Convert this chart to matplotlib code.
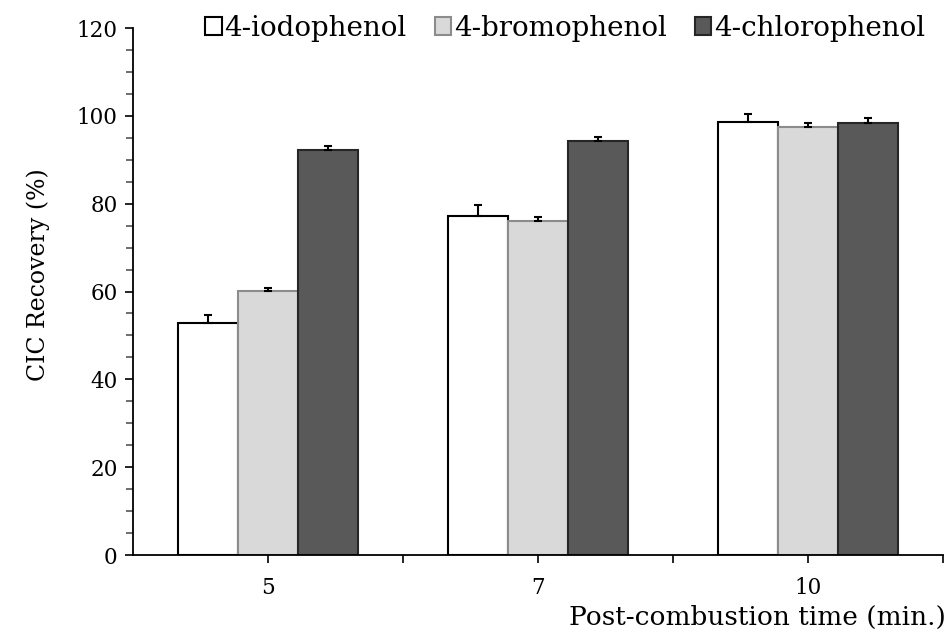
import numpy as np
import matplotlib
matplotlib.use('Agg')
import matplotlib.pyplot as plt
from matplotlib.ticker import MultipleLocator

plt.rcParams['font.family'] = ['DejaVu Serif']

times = ['5', '7', '10']
series = ['4-iodophenol', '4-bromophenol', '4-chlorophenol']
iodo = [52.8, 77.2, 98.5]
iodo_err = [1.8, 2.6, 1.9]
bromo = [60.2, 76.1, 97.4]
bromo_err = [0.7, 0.8, 1.0]
chloro = [92.3, 94.3, 98.3]
chloro_err = [0.9, 1.0, 1.3]

fills = ['white', '#d9d9d9', '#595959']
edges = ['black', '#8c8c8c', '#262626']

fig = plt.figure(figsize=(9.47, 6.37), dpi=100)
ax = fig.add_axes([0.1404, 0.1287, 0.8554, 0.8273])

x = np.arange(len(times))
w = 0.222
vals = [iodo, bromo, chloro]
errs = [iodo_err, bromo_err, chloro_err]
for i in range(3):
    ax.bar(x + (i - 1) * w, vals[i], w, color=fills[i], edgecolor=edges[i],
           linewidth=1.5, label=series[i], zorder=2,
           yerr=[np.zeros(3), errs[i]],
           error_kw=dict(ecolor='black', elinewidth=1.5, capsize=3, capthick=1.5))

ax.set_xlim(-0.5, 2.5)
ax.set_ylim(0, 120)
ax.set_xticks(x)
ax.set_xticklabels(times)
ax.set_xticks([0.5, 1.5, 2.5], minor=True)
ax.yaxis.set_major_locator(MultipleLocator(20))
ax.yaxis.set_minor_locator(MultipleLocator(5))
ax.tick_params(axis='both', which='both', direction='out', length=6, width=1.2,
               labelsize=15.5)
ax.tick_params(axis='y', which='major', pad=5)
ax.tick_params(axis='x', which='major', pad=10)
ax.tick_params(axis='y', which='minor', length=5, color='#555555')

for s in ['top', 'right']:
    ax.spines[s].set_visible(False)
for s in ['left', 'bottom']:
    ax.spines[s].set_linewidth(1.3)

ax.set_ylabel('CIC Recovery (%)', fontsize=17)
ax.yaxis.set_label_coords(-0.102, 0.533)
ax.set_xlabel('Post-combustion time (min.)', fontsize=19)
ax.xaxis.set_label_coords(1.003, -0.094)
ax.xaxis.label.set_horizontalalignment('right')

ax.legend(loc='center right', bbox_to_anchor=(0.978, 1.0), ncol=3, frameon=False,
          fontsize=20, handlelength=0.6, handleheight=0.6, handletextpad=0.1,
          columnspacing=1.0, borderaxespad=0, borderpad=0)

fig.savefig('out.png', dpi=100)
